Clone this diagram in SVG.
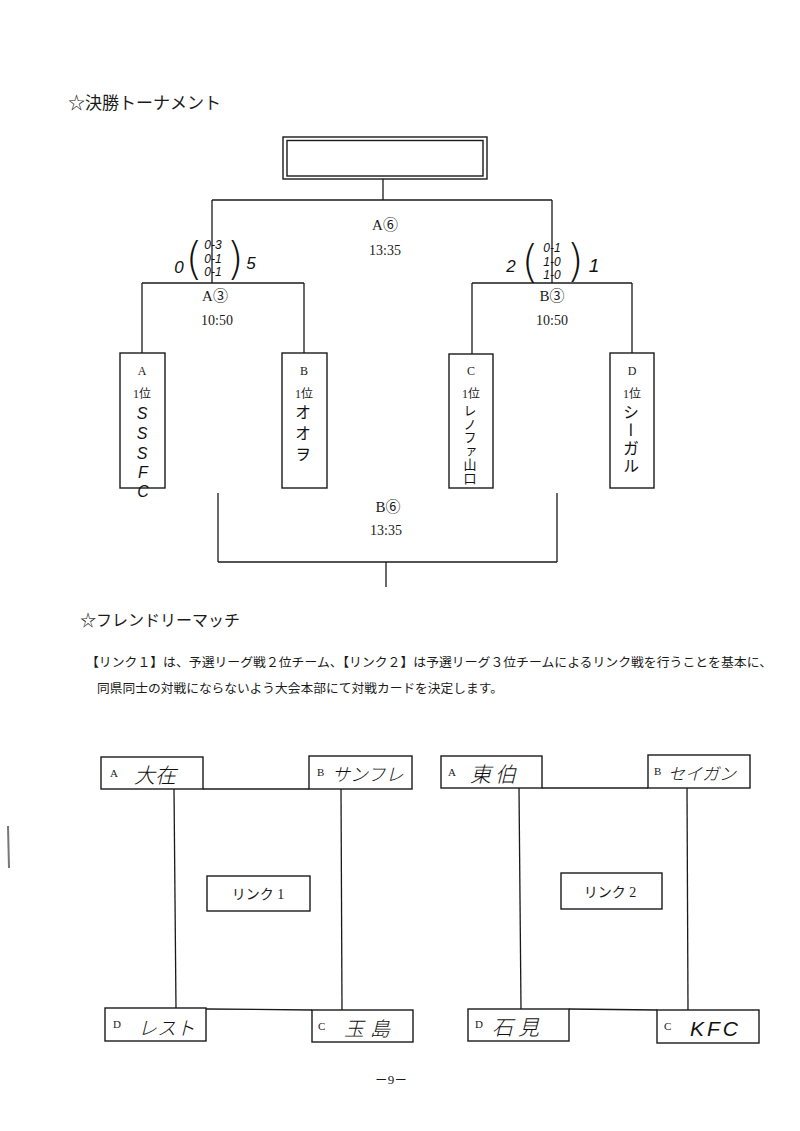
<svg xmlns="http://www.w3.org/2000/svg" width="800" height="1131" viewBox="0 0 800 1131">
<style>
.bg{fill:#ffffff}
.ln{stroke:#1a1a1a;stroke-width:1.3;fill:none}
.bx{stroke:#1a1a1a;stroke-width:1.4;fill:#ffffff}
.pt{font-family:"Liberation Serif","Noto Sans CJK JP",serif;fill:#1a1a1a}
.hw{font-family:"Noto Sans CJK JP","DejaVu Sans",sans-serif;fill:#111111;font-weight:300;font-style:italic}
.vt{font-family:"Noto Sans CJK JP","DejaVu Sans",sans-serif;fill:#111111;font-weight:400;writing-mode:vertical-rl;opacity:0.99}
.hl{font-family:"Liberation Sans","DejaVu Sans",sans-serif;fill:#111111;font-style:italic}
.par{font-family:"DejaVu Sans",sans-serif;fill:#111111;font-weight:300}
.sm{font-size:12px}
.md{font-size:15px}
</style>
<rect class="bg" x="0" y="0" width="800" height="1131"/>
<line x1="8" y1="826" x2="9" y2="868" stroke="#777" stroke-width="2"/>

<text class="pt" x="68" y="109" font-size="17">☆決勝トーナメント</text>

<g id="connectors">
  <line class="ln" x1="383" y1="179" x2="383" y2="200"/>
  <line class="ln" x1="212" y1="200" x2="552" y2="200"/>
  <line class="ln" x1="212" y1="200" x2="212" y2="283"/>
  <line class="ln" x1="552" y1="200" x2="552" y2="283"/>
  <line class="ln" x1="142" y1="283" x2="304" y2="283"/>
  <line class="ln" x1="472" y1="283" x2="632" y2="283"/>
  <line class="ln" x1="142" y1="283" x2="142" y2="353"/>
  <line class="ln" x1="304" y1="283" x2="304" y2="353"/>
  <line class="ln" x1="472" y1="283" x2="472" y2="354"/>
  <line class="ln" x1="632" y1="283" x2="632" y2="353"/>
  <line class="ln" x1="218" y1="493" x2="218" y2="562"/>
  <line class="ln" x1="557" y1="493" x2="557" y2="562"/>
  <line class="ln" x1="218" y1="562" x2="557" y2="562"/>
  <line class="ln" x1="386" y1="562" x2="386" y2="587"/>
  <line class="ln" x1="203" y1="789" x2="309" y2="789"/>
  <line class="ln" x1="174" y1="789" x2="176" y2="1009"/>
  <line class="ln" x1="341" y1="789" x2="342" y2="1010"/>
  <line class="ln" x1="206" y1="1009" x2="312" y2="1010"/>
  <line class="ln" x1="542" y1="788" x2="648" y2="788"/>
  <line class="ln" x1="519" y1="788" x2="521" y2="1009"/>
  <line class="ln" x1="687" y1="788" x2="688" y2="1010"/>
  <line class="ln" x1="569" y1="1009" x2="657" y2="1010"/>
</g>

<g id="final">
  <rect class="bx" x="283" y="137" width="204" height="42"/>
  <rect class="bx" x="287" y="140.5" width="196" height="35.5"/>
</g>

<g id="match-A6">
  <text class="pt md" x="385" y="230" text-anchor="middle">A⑥</text>
  <text class="pt" x="385" y="255" font-size="14" text-anchor="middle">13:35</text>
</g>
<g id="match-A3">
  <text class="pt md" x="215" y="301" text-anchor="middle">A③</text>
  <text class="pt" x="217" y="325" font-size="14" text-anchor="middle">10:50</text>
  <text class="hl" x="179" y="273" font-size="17" text-anchor="middle">0</text>
  <text class="par" x="194" y="274" font-size="44" text-anchor="middle">(</text>
  <text class="hl" x="213" y="249" font-size="12" text-anchor="middle">0-3</text>
  <text class="hl" x="213" y="262.5" font-size="12" text-anchor="middle">0-1</text>
  <text class="hl" x="213" y="276" font-size="12" text-anchor="middle">0-1</text>
  <text class="par" x="235" y="274" font-size="44" text-anchor="middle">)</text>
  <text class="hl" x="251" y="269" font-size="17" text-anchor="middle">5</text>
</g>
<g id="match-B3">
  <text class="pt md" x="552" y="301" text-anchor="middle">B③</text>
  <text class="pt" x="552" y="325" font-size="14" text-anchor="middle">10:50</text>
  <text class="hl" x="511" y="272" font-size="17" text-anchor="middle">2</text>
  <text class="par" x="530" y="277" font-size="44" text-anchor="middle">(</text>
  <text class="hl" x="552" y="252" font-size="12" text-anchor="middle">0-1</text>
  <text class="hl" x="552" y="265.5" font-size="12" text-anchor="middle">1-0</text>
  <text class="hl" x="552" y="279" font-size="12" text-anchor="middle">1-0</text>
  <text class="par" x="575" y="276" font-size="44" text-anchor="middle">)</text>
  <text class="hl" x="594" y="272" font-size="19" text-anchor="middle">1</text>
</g>
<g id="match-B6">
  <text class="pt md" x="388" y="512" text-anchor="middle">B⑥</text>
  <text class="pt" x="386" y="535" font-size="14" text-anchor="middle">13:35</text>
</g>

<g id="team-A1">
  <rect class="bx" x="120" y="353" width="45" height="135"/>
  <text class="pt sm" x="142" y="375" text-anchor="middle">A</text>
  <text class="pt sm" x="142" y="398" text-anchor="middle">1位</text>
  <text class="hl" font-size="16" text-anchor="middle"><tspan x="142" y="419">S</tspan><tspan x="142" y="439">S</tspan><tspan x="142" y="459">S</tspan><tspan x="143" y="478">F</tspan><tspan x="143" y="497">C</tspan></text>
</g>
<g id="team-B1">
  <rect class="bx" x="282" y="353" width="45" height="135"/>
  <text class="pt sm" x="304" y="375" text-anchor="middle">B</text>
  <text class="pt sm" x="304" y="398" text-anchor="middle">1位</text>
  <text class="vt" x="303" y="404" font-size="16" letter-spacing="5">オオヲ</text>
</g>
<g id="team-C1">
  <rect class="bx" x="449" y="354" width="44" height="134"/>
  <text class="pt sm" x="471" y="375" text-anchor="middle">C</text>
  <text class="pt sm" x="471" y="398" text-anchor="middle">1位</text>
  <text class="vt" x="470" y="404" font-size="13" letter-spacing="0.5">レノファ山口</text>
</g>
<g id="team-D1">
  <rect class="bx" x="610" y="353" width="44" height="135"/>
  <text class="pt sm" x="632" y="375" text-anchor="middle">D</text>
  <text class="pt sm" x="632" y="398" text-anchor="middle">1位</text>
  <text class="vt" x="631" y="404" font-size="16" letter-spacing="2">シーガル</text>
</g>

<text class="pt" x="80" y="626" font-size="16">☆フレンドリーマッチ</text>
<text class="pt" x="86" y="667" font-size="12.5" textLength="686" lengthAdjust="spacingAndGlyphs">【リンク１】は、予選リーグ戦２位チーム、【リンク２】は予選リーグ３位チームによるリンク戦を行うことを基本に、</text>
<text class="pt" x="97" y="693" font-size="12.5" textLength="406" lengthAdjust="spacingAndGlyphs">同県同士の対戦にならないよう大会本部にて対戦カードを決定します。</text>

<g id="link1-A">
  <rect class="bx" x="101" y="757" width="102" height="32"/>
  <text class="pt" x="110" y="777" font-size="11">A</text>
  <text class="hw" x="134" y="783" font-size="21">大在</text>
</g>
<g id="link1-B">
  <rect class="bx" x="309" y="756" width="103" height="33"/>
  <text class="pt" x="317" y="776" font-size="11">B</text>
  <text class="hw" x="332" y="781" font-size="18">サンフレ</text>
</g>
<g id="link1-label">
  <rect class="bx" x="207" y="876" width="103" height="35"/>
  <text class="pt" x="258" y="899" font-size="14" text-anchor="middle">リンク 1</text>
</g>
<g id="link1-D">
  <rect class="bx" x="105" y="1008" width="101" height="33"/>
  <text class="pt" x="113" y="1028" font-size="11">D</text>
  <text class="hw" x="138" y="1035" font-size="19">レスト</text>
</g>
<g id="link1-C">
  <rect class="bx" x="312" y="1010" width="101" height="32"/>
  <text class="pt" x="318" y="1030" font-size="11">C</text>
  <text class="hw" x="344" y="1036" font-size="20" letter-spacing="6">玉島</text>
</g>

<g id="link2-A">
  <rect class="bx" x="441" y="756" width="101" height="32"/>
  <text class="pt" x="448" y="776" font-size="11">A</text>
  <text class="hw" x="470" y="782" font-size="21" letter-spacing="4">東伯</text>
</g>
<g id="link2-B">
  <rect class="bx" x="648" y="755" width="102" height="33"/>
  <text class="pt" x="654" y="775" font-size="11">B</text>
  <text class="hw" x="668" y="780" font-size="17">セイガン</text>
</g>
<g id="link2-label">
  <rect class="bx" x="561" y="873" width="101" height="36"/>
  <text class="pt" x="610" y="897" font-size="14" text-anchor="middle">リンク 2</text>
</g>
<g id="link2-D">
  <rect class="bx" x="468" y="1009" width="101" height="32"/>
  <text class="pt" x="475" y="1028" font-size="11">D</text>
  <text class="hw" x="492" y="1035" font-size="21" letter-spacing="5">石見</text>
</g>
<g id="link2-C">
  <rect class="bx" x="657" y="1010" width="102" height="33"/>
  <text class="pt" x="664" y="1030" font-size="11">C</text>
  <text class="hl" x="690" y="1036" font-size="21" letter-spacing="3">KFC</text>
</g>

<text class="pt" x="391" y="1084" font-size="13" text-anchor="middle">－9－</text>
</svg>
